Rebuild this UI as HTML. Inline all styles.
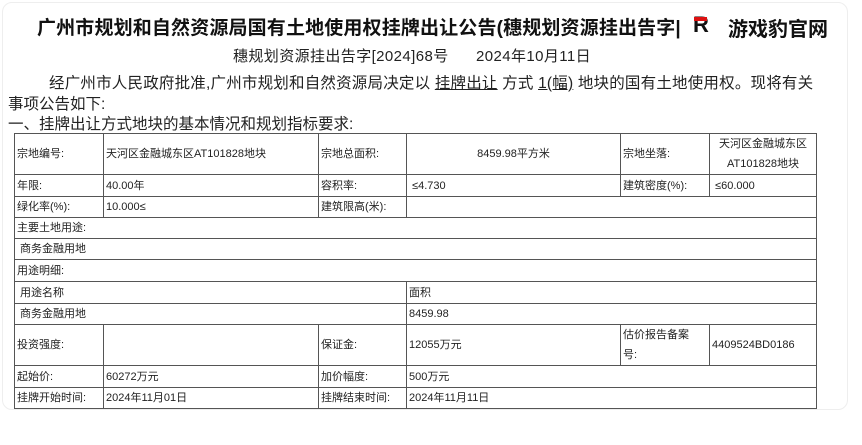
<!DOCTYPE html>
<html><head><meta charset="utf-8"><style>
*{margin:0;padding:0;box-sizing:border-box}
body{width:862px;height:445px;background:#fff;position:relative;overflow:hidden;font-family:"Liberation Sans","Noto Sans CJK SC",sans-serif;color:#222}
.card{position:absolute;left:2px;top:2px;width:846px;height:408px;border:1px solid #eee;border-radius:10px}
.t{position:absolute;white-space:nowrap}
table{position:absolute;left:14px;top:133px;border-collapse:collapse;table-layout:fixed;width:802px}
td{border:1px solid #555;font-size:11px;padding:0 2px;vertical-align:middle;line-height:16px;overflow:hidden}
</style></head><body>
<div class="card"></div>
<div class="t" style="left:37px;top:13px;font-size:19px;font-weight:bold;color:#111;letter-spacing:0.15px">广州市规划和自然资源局国有土地使用权挂牌出让公告(穗规划资源挂出告字|</div>
<div class="t" style="left:693px;top:12px;font-size:22px;font-weight:bold;color:#111;font-family:'Liberation Sans',sans-serif">R</div>
<div style="position:absolute;left:694px;top:17px;width:13px;height:4px;background:#d11"></div>
<div class="t" style="left:728px;top:13px;font-size:20px;font-weight:bold;color:#111">游戏豹官网</div>
<div class="t" style="left:233px;top:45px;font-size:15px;letter-spacing:0.4px">穗规划资源挂出告字[2024]68号&nbsp;&nbsp;&nbsp;&nbsp;&nbsp;&nbsp;2024年10月11日</div>
<div class="t" style="left:49px;top:71px;font-size:15.5px;letter-spacing:0.2px">经广州市人民政府批准,广州市规划和自然资源局决定以 <u>挂牌出让</u> 方式 <u>1(幅)</u> 地块的国有土地使用权。现将有关</div>
<div class="t" style="left:8px;top:92px;font-size:15.5px">事项公告如下:</div>
<div class="t" style="left:8px;top:112px;font-size:15.5px">一、挂牌出让方式地块的基本情况和规划指标要求:</div>
<table>
<colgroup><col style="width:89px"><col style="width:215px"><col style="width:88px"><col style="width:214px"><col style="width:89px"><col style="width:107px"></colgroup>
<tr style="height:40px"><td>宗地编号:</td><td>天河区金融城东区AT101828地块</td><td>宗地总面积:</td><td style="text-align:center">8459.98平方米</td><td>宗地坐落:</td><td style="text-align:center;line-height:20px">天河区金融城东区AT101828地块</td></tr>
<tr style="height:22px"><td>年限:</td><td>40.00年</td><td>容积率:</td><td>&nbsp;≤4.730</td><td>建筑密度(%):</td><td>&nbsp;≤60.000</td></tr>
<tr style="height:21px"><td>绿化率(%):</td><td>10.000≤</td><td>建筑限高(米):</td><td colspan="3"></td></tr>
<tr style="height:21px"><td colspan="6">主要土地用途:</td></tr>
<tr style="height:21px"><td colspan="6">&nbsp;商务金融用地</td></tr>
<tr style="height:22px"><td colspan="6">用途明细:</td></tr>
<tr style="height:22px"><td colspan="3">&nbsp;用途名称</td><td colspan="3">面积</td></tr>
<tr style="height:21px"><td colspan="3">&nbsp;商务金融用地</td><td colspan="3">8459.98</td></tr>
<tr style="height:40px"><td>投资强度:</td><td></td><td>保证金:</td><td>12055万元</td><td style="line-height:20px;white-space:normal;word-break:break-all;padding-right:12px">估价报告备案号:</td><td>4409524BD0186</td></tr>
<tr style="height:22px"><td>起始价:</td><td>60272万元</td><td>加价幅度:</td><td colspan="3">500万元</td></tr>
<tr style="height:21px"><td>挂牌开始时间:</td><td>2024年11月01日</td><td>挂牌结束时间:</td><td colspan="3">2024年11月11日</td></tr>
</table>
</body></html>
